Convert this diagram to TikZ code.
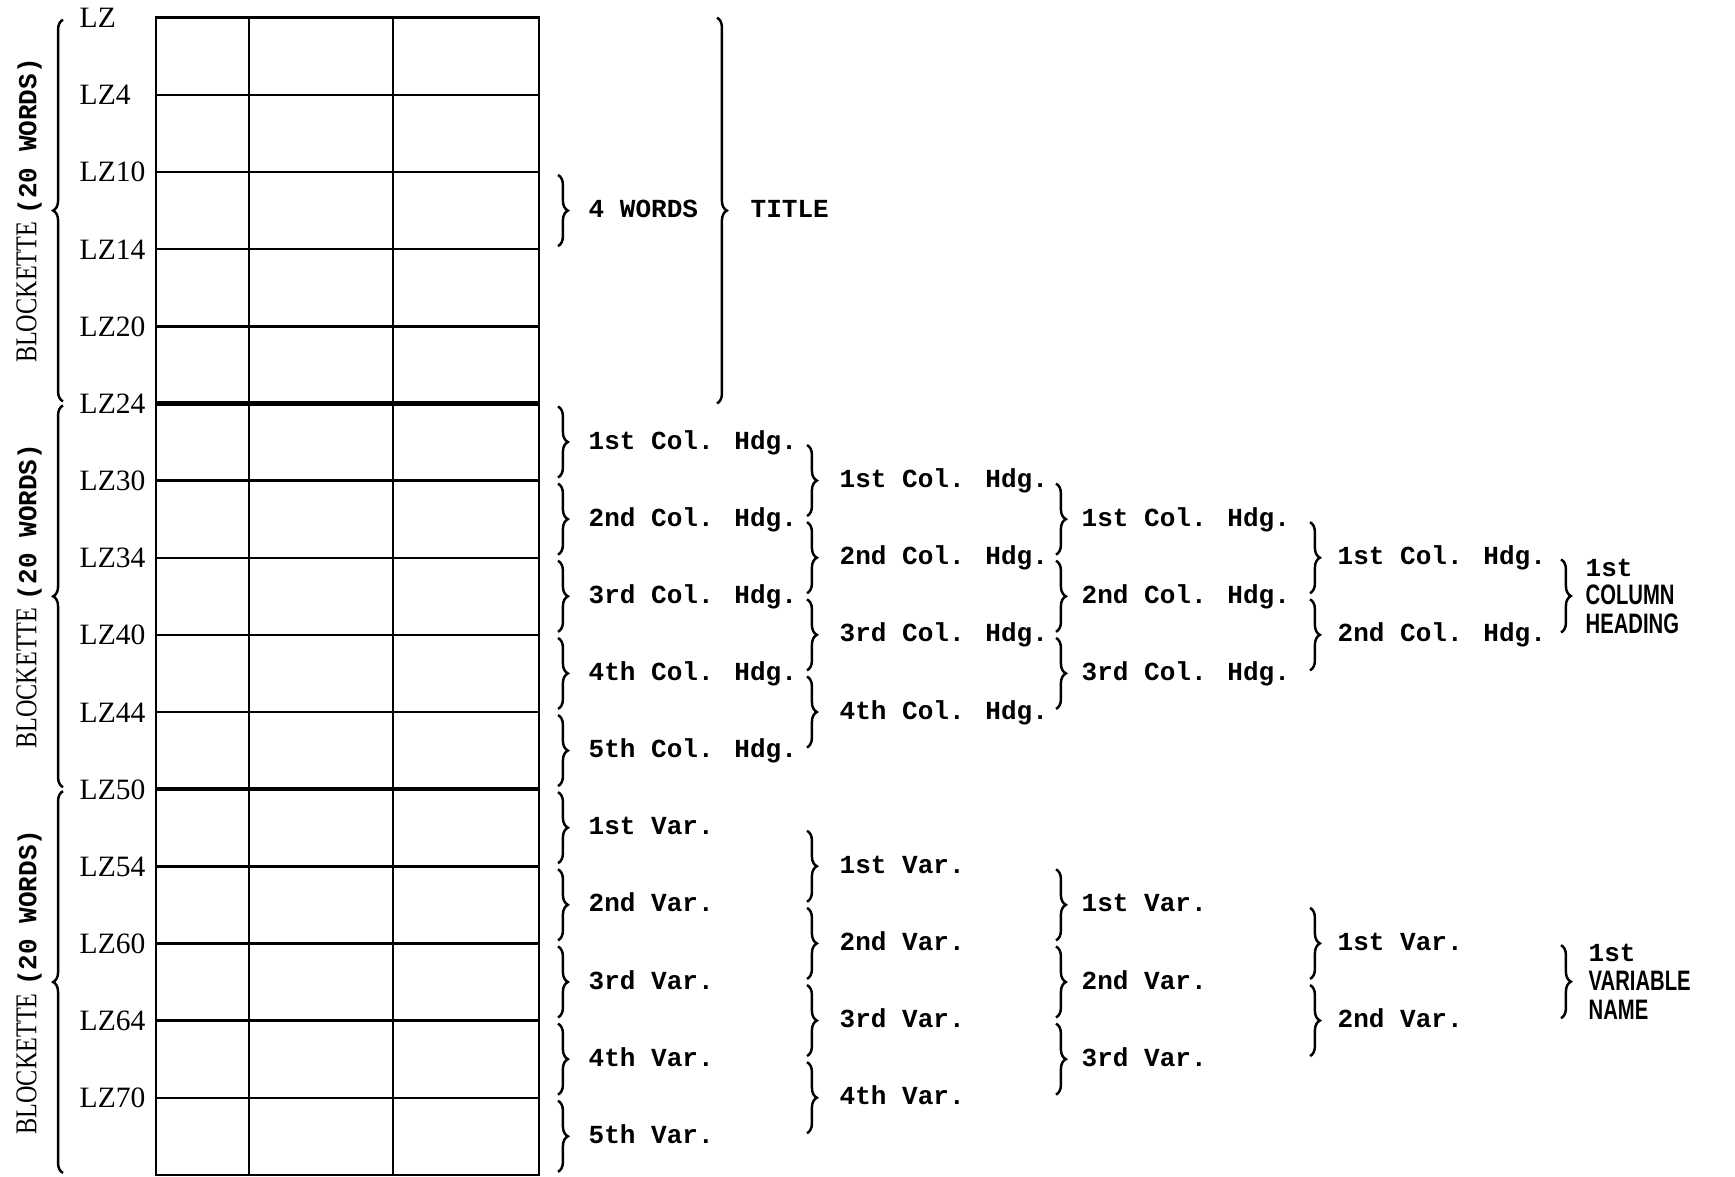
\documentclass[tikz,border=0pt]{standalone}
\usepackage{fontspec}
\setmainfont{Liberation Serif}
\newfontfamily\typefont{Liberation Mono}
\newfontfamily\condserif{Liberation Serif}[FakeStretch=0.8]
\newfontfamily\condsans{Liberation Sans}[FakeStretch=0.72]
\usetikzlibrary{decorations.pathreplacing}

\begin{document}
\begin{tikzpicture}[x=0.01cm, y=-0.01cm,
  grid/.style={line width=0.7pt},
  blockline/.style={line width=1.2pt},
  bracket/.style={decorate, decoration={brace, amplitude=2.8pt}, line width=0.7pt},
  lzlabel/.style={font=\fontsize{8.4}{10}\selectfont, inner sep=0pt, anchor=base west},
  hdg/.style={font=\typefont\bfseries\fontsize{7.4}{9}\selectfont, inner sep=0pt, anchor=base west},
  sidelabel/.style={rotate=90, inner sep=0pt, font=\fontsize{8.6}{10}\selectfont},
  summary/.style={inner sep=0pt, anchor=west, align=left,
                  font=\condsans\bfseries\fontsize{8}{8.2}\selectfont}
]
  \useasboundingbox (0,0) rectangle (1735,1177);

  % word grid
  \draw[grid] (156,17.7) rectangle (539,1175);
  \foreach \xc in {249,393} \draw[grid] (\xc,17.7) -- (\xc,1175);
  \foreach \r in {1,2,3,4,6,7,8,9,11,12,13,14}
    \draw[grid] (156,{17.7+\r*77.15}) -- (539,{17.7+\r*77.15});
  \foreach \r in {5,10}
    \draw[blockline] (156,{17.7+\r*77.15}) -- (539,{17.7+\r*77.15});

  \foreach \lab [count=\i from 0] in {LZ,LZ4,LZ10,LZ14,LZ20,LZ24,LZ30,LZ34,LZ40,LZ44,LZ50,LZ54,LZ60,LZ64,LZ70}
    \node[lzlabel] (lz\i) at (79,{17.7+\i*77.15+10}) {\lab};

  % blockettes
  \foreach \b in {0,1,2}{
    \draw[bracket] (63,{17.7+(\b+1)*385.75-2}) -- (63,{17.7+\b*385.75+2});
    \node[sidelabel] (blk\b) at (29,{17.7+(\b+0.5)*385.75})
      {{\condserif BLOCKETTE} {\typefont\bfseries\fontsize{7.4}{9}\selectfont (20 WORDS)}};
  }

  % title
  \draw[bracket] (558,{17.7+2*77.15+3}) -- (558,{17.7+3*77.15-3});
  \node[hdg] (words) at (588,217.6) {4 WORDS};
  \draw[bracket] (717,17.7) -- (717,403.5);
  \node[hdg] (title) at (750,217.6) {TITLE};

  % column headings and variables
  \foreach \top/\what/\g in {403.5/Col. Hdg./h, 789.2/Var./v}{
    \foreach \lv/\bx/\tx/\n in {0/558/588/5, 1/807/839/4, 2/1056/1081/3, 3/1310/1337/2}{
      \foreach \ord [count=\i from 0] in {1st,2nd,3rd,4th,5th}{
        \ifnum\i<\n\relax
          \pgfmathsetmacro\ya{\top+(\lv/2+\i)*77.15}
          \draw[bracket] (\bx,{\ya+3}) -- (\bx,{\ya+74});
          \node[hdg] (\g\lv-\i) at (\tx,{\ya+38.6+7}) {\ord\ \what};
        \fi
      }
    }
  }

  \draw[bracket] (1561,{403.5+156}) -- (1561,{403.5+229});
  \node[summary] (hsum) at (1585,{403.5+192.9})
    {{\typefont\bfseries\fontsize{7.4}{8.2}\selectfont 1st}\\COLUMN\\HEADING};
  \draw[bracket] (1561,{789.2+156}) -- (1561,{789.2+229});
  \node[summary] (vsum) at (1588,{789.2+192.9})
    {{\typefont\bfseries\fontsize{7.4}{8.2}\selectfont 1st}\\VARIABLE\\NAME};
\end{tikzpicture}
\end{document}
